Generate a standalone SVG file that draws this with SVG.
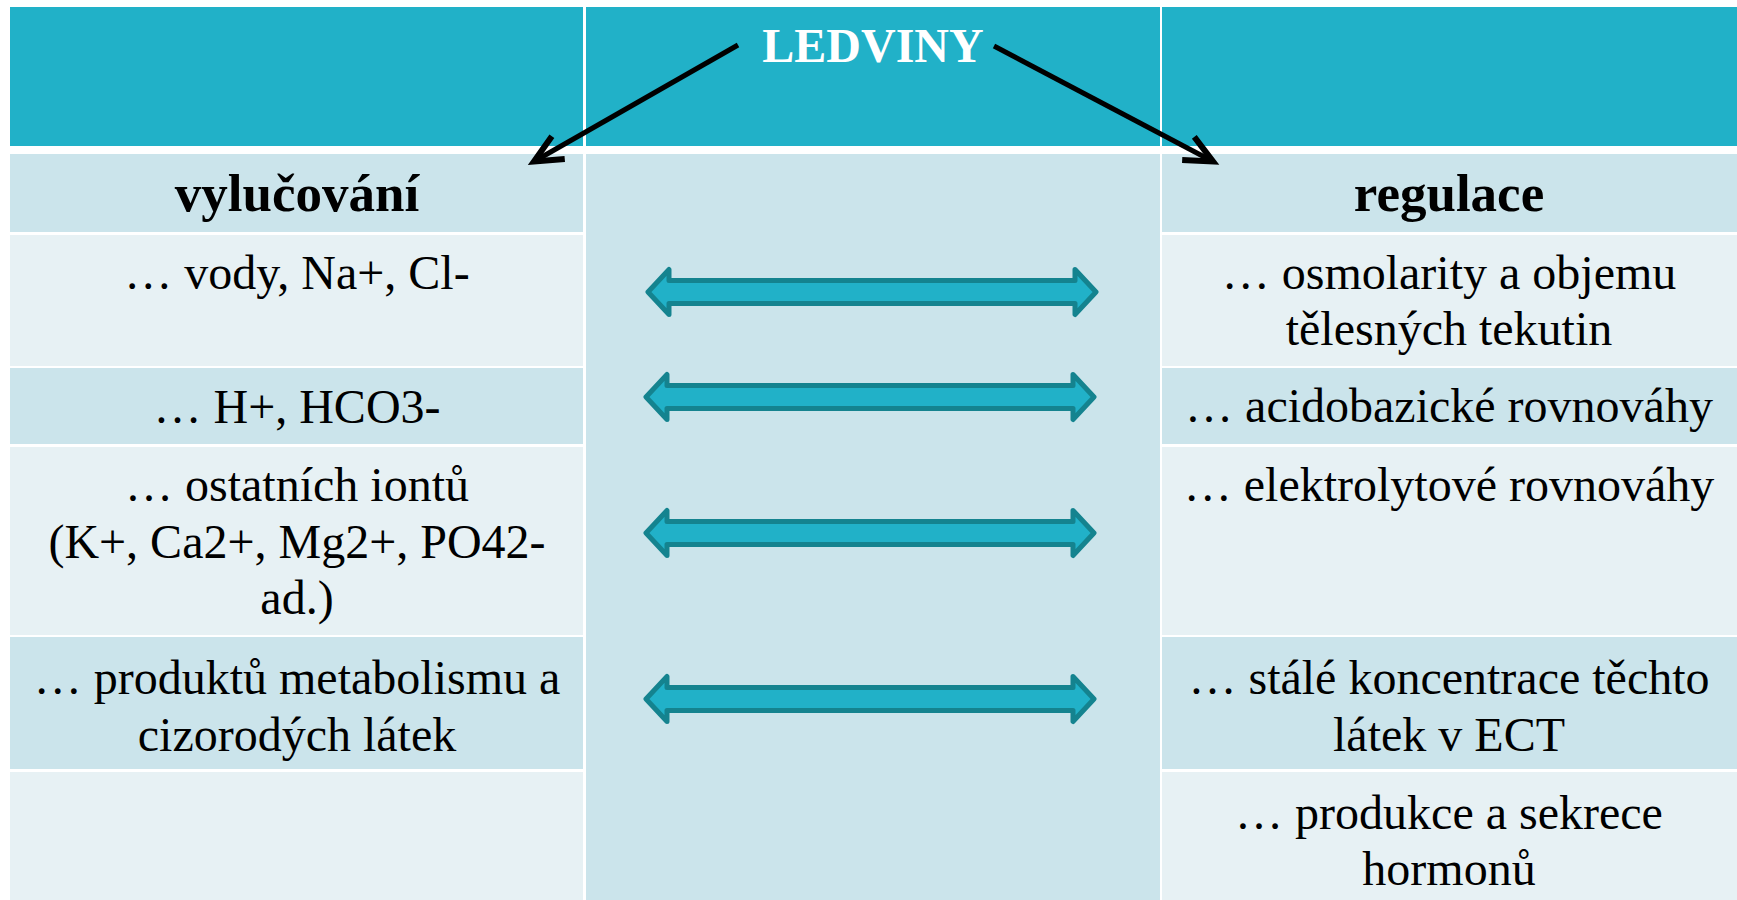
<svg xmlns="http://www.w3.org/2000/svg" width="1737" height="900" viewBox="0 0 1737 900">
  <style>
    .hdr{fill:#21B1C8}
    .dark{fill:#CBE4EB}
    .light{fill:#E7F1F4}
    .t{font-family:"Liberation Serif","DejaVu Serif",serif;font-size:48px;font-weight:normal;fill:#000;text-anchor:middle}
    .b{font-weight:bold;font-size:53px}
    .title{font-weight:bold;font-size:48px;fill:#fff}
    .dbl{fill:#21B1C8;stroke:#14838F;stroke-width:5;stroke-linejoin:round}
    .blk{stroke:#000;stroke-width:5;fill:none}
  </style>
  <defs>
    <marker id="open" markerUnits="userSpaceOnUse" markerWidth="50" markerHeight="50" viewBox="-40 -25 50 50" refX="0" refY="0" orient="auto">
      <path d="M-28,-13 L0,0 L-28,13" fill="none" stroke="#000" stroke-width="6" stroke-linejoin="miter"/>
    </marker>
    <path id="dblArrow" d="M648,0 L669,-22.5 L669,-11.5 L1075,-11.5 L1075,-22.5 L1096,0 L1075,22.5 L1075,11.5 L669,11.5 L669,22.5 Z"/>
  </defs>

  <rect x="0" y="0" width="1737" height="900" fill="#fff"/>

  <g id="header-left"><rect class="hdr" x="10" y="7" width="573" height="139"/></g>
  <g id="header-mid">
    <rect class="hdr" x="586" y="7" width="574" height="139"/>
    <text class="t title" x="873" y="62">LEDVINY</text>
  </g>
  <g id="header-right"><rect class="hdr" x="1162" y="7" width="575" height="139"/></g>

  <g id="middle-column"><rect class="dark" x="586" y="154" width="574" height="746"/></g>

  <g id="vylucovani">
    <rect class="dark" x="10" y="154" width="573" height="78"/>
    <text class="t b" x="297" y="211">vylučování</text>
  </g>
  <g id="regulace">
    <rect class="dark" x="1162" y="154" width="575" height="78"/>
    <text class="t b" x="1449" y="211">regulace</text>
  </g>

  <g id="left-1">
    <rect class="light" x="10" y="235" width="573" height="131"/>
    <text class="t" x="297" y="289">… vody, Na+, Cl-</text>
  </g>
  <g id="left-2">
    <rect class="dark" x="10" y="368" width="573" height="76"/>
    <text class="t" x="297" y="423">… H+, HCO3-</text>
  </g>
  <g id="left-3">
    <rect class="light" x="10" y="447" width="573" height="188"/>
    <text class="t" x="297" y="501">… ostatních iontů</text>
    <text class="t" x="297" y="558">(K+, Ca2+, Mg2+, PO42-</text>
    <text class="t" x="297" y="614">ad.)</text>
  </g>
  <g id="left-4">
    <rect class="dark" x="10" y="637" width="573" height="132"/>
    <text class="t" x="297" y="694">… produktů metabolismu a</text>
    <text class="t" x="297" y="751">cizorodých látek</text>
  </g>
  <g id="left-5">
    <rect class="light" x="10" y="772" width="573" height="128"/>
  </g>

  <g id="right-1">
    <rect class="light" x="1162" y="235" width="575" height="131"/>
    <text class="t" x="1449" y="289">… osmolarity a objemu</text>
    <text class="t" x="1449" y="345">tělesných tekutin</text>
  </g>
  <g id="right-2">
    <rect class="dark" x="1162" y="368" width="575" height="76"/>
    <text class="t" x="1449" y="422">… acidobazické rovnováhy</text>
  </g>
  <g id="right-3">
    <rect class="light" x="1162" y="447" width="575" height="188"/>
    <text class="t" x="1449" y="501">… elektrolytové rovnováhy</text>
  </g>
  <g id="right-4">
    <rect class="dark" x="1162" y="637" width="575" height="132"/>
    <text class="t" x="1449" y="694">… stálé koncentrace těchto</text>
    <text class="t" x="1449" y="751">látek v ECT</text>
  </g>
  <g id="right-5">
    <rect class="light" x="1162" y="772" width="575" height="128"/>
    <text class="t" x="1449" y="829">… produkce a sekrece</text>
    <text class="t" x="1449" y="885">hormonů</text>
  </g>

  <g id="connectors">
    <line class="blk" x1="738" y1="45" x2="534" y2="161.5" marker-end="url(#open)"/>
    <line class="blk" x1="994" y1="46" x2="1213" y2="161.5" marker-end="url(#open)"/>
    <use href="#dblArrow" class="dbl" transform="translate(0,292)"/>
    <use href="#dblArrow" class="dbl" transform="translate(-2,397)"/>
    <use href="#dblArrow" class="dbl" transform="translate(-2,533)"/>
    <use href="#dblArrow" class="dbl" transform="translate(-2,699)"/>
  </g>
</svg>
